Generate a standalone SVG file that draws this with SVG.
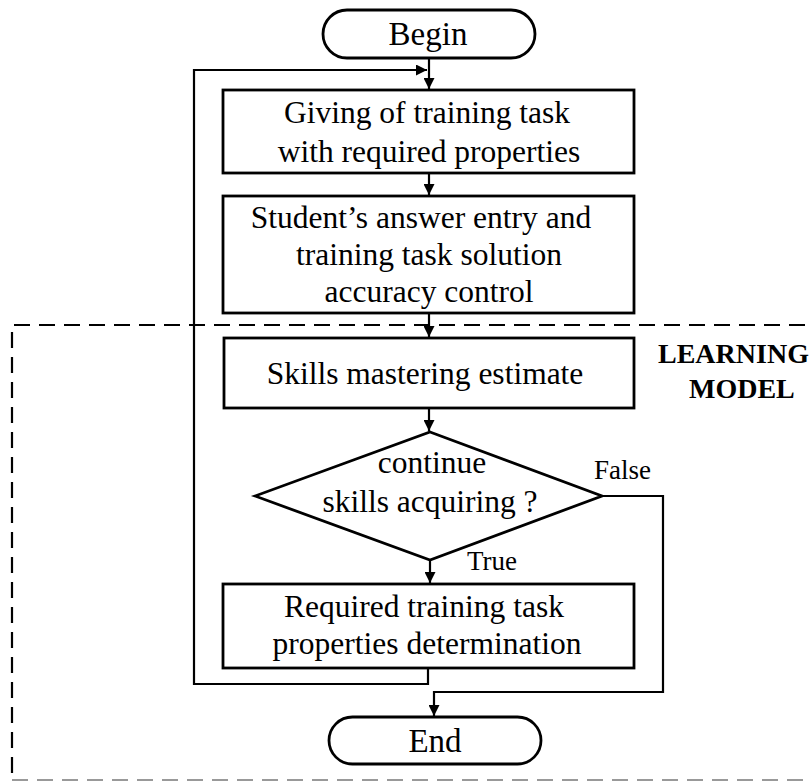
<svg xmlns="http://www.w3.org/2000/svg" width="812" height="783" viewBox="0 0 812 783">
<style>
.box{fill:#fff;stroke:#000;stroke-width:2.8}
.t{font-family:"Liberation Serif","Times New Roman",serif;font-size:31.5px;fill:#000;text-anchor:middle}
.lbl{font-family:"Liberation Serif","Times New Roman",serif;font-size:27px;fill:#000}
.b{font-family:"Liberation Serif","Times New Roman",serif;font-size:28px;font-weight:bold;fill:#000}
.c{fill:none;stroke:#000;stroke-width:2.2}
</style>
<defs>
<marker id="ah" viewBox="0 0 10 10" refX="10" refY="5" markerWidth="5" markerHeight="5" orient="auto" markerUnits="strokeWidth">
<path d="M0,0 L10,5 L0,10 z" fill="#000"/>
</marker>
</defs>
<rect width="812" height="783" fill="#fff"/>
<g id="learning-model">
<path d="M830,325 H12 V780" fill="none" stroke="#000" stroke-width="2.2" stroke-dasharray="16 9"/>
<path d="M12,780 H830" fill="none" stroke="#999" stroke-width="2" stroke-dasharray="16 9"/>
<text class="b" x="658" y="363">LEARNING</text>
<text class="b" x="689" y="398">MODEL</text>
</g>
<g id="connectors">
<path class="c" d="M429,58 V89" marker-end="url(#ah)"/>
<path class="c" d="M428,668 V684 H194 V70 H427" marker-end="url(#ah)"/>
<path class="c" d="M429,173 V195" marker-end="url(#ah)"/>
<path class="c" d="M429,313 V337" marker-end="url(#ah)"/>
<path class="c" d="M429,408 V431" marker-end="url(#ah)"/>
<path class="c" d="M430,560 V583" marker-end="url(#ah)"/>
<path class="c" d="M602,496 H663 V692 H434 V716" marker-end="url(#ah)"/>
<text class="lbl" x="594" y="479">False</text>
<text class="lbl" x="467" y="570">True</text>
</g>
<g id="begin">
<rect class="box" x="323" y="10" width="212" height="48" rx="24"/>
<text class="t" x="428" y="45" style="font-size:33px">Begin</text>
</g>
<g id="giving">
<rect class="box" x="223" y="90" width="411" height="83"/>
<text class="t" x="427" y="123">Giving of training task</text>
<text class="t" x="429" y="162">with required properties</text>
</g>
<g id="answer">
<rect class="box" x="223" y="196" width="411" height="117"/>
<text class="t" x="421" y="228">Student’s answer entry and</text>
<text class="t" x="429" y="265">training task solution</text>
<text class="t" x="429" y="302">accuracy control</text>
</g>
<g id="skills">
<rect class="box" x="224" y="338" width="410" height="70"/>
<text class="t" x="425" y="384">Skills mastering estimate</text>
</g>
<g id="decision">
<polygon class="box" points="430,432 602,496 430,560 255,496"/>
<text class="t" x="432" y="473">continue</text>
<text class="t" x="430" y="512">skills acquiring ?</text>
</g>
<g id="required">
<rect class="box" x="223" y="584" width="411" height="84"/>
<text class="t" x="424" y="617">Required training task</text>
<text class="t" x="427" y="654">properties determination</text>
</g>
<g id="end">
<rect class="box" x="329" y="717" width="212" height="47" rx="23.5"/>
<text class="t" x="435" y="752" style="font-size:33px">End</text>
</g>
</svg>
